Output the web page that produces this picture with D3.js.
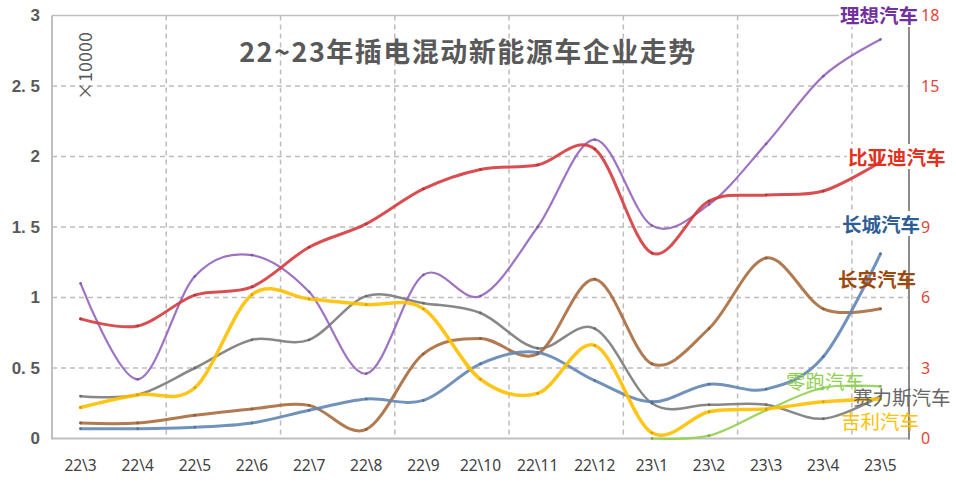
<!DOCTYPE html>
<html><head><meta charset="utf-8">
<script src="https://cdn.jsdelivr.net/npm/d3@7"></script>
<style>
html,body{margin:0;padding:0;background:#fff;}
svg{display:block;}
</style></head>
<body>
<svg id="chart" width="956" height="484"></svg>
<script>
// ---------- data ----------
const months = ["22\\3","22\\4","22\\5","22\\6","22\\7","22\\8","22\\9","22\\10","22\\11","22\\12","23\\1","23\\2","23\\3","23\\4","23\\5"];
const leftTicks = [0, 0.5, 1, 1.5, 2, 2.5, 3];
const leftTickLabels = ["0", "0. 5", "1", "1. 5", "2", "2. 5", "3"];
const rightTicks = [0, 3, 6, 9, 12, 15, 18];
const unitLabel = "×10000";
const title = "22~23年插电混动新能源车企业走势";

// values in 10,000 units
const seres   = [0.30,0.31,0.50,0.70,0.70,1.01,0.96,0.89,0.64,0.78,0.25,0.24,0.24,0.14,0.30];
const changan = [0.11,0.11,0.165,0.21,0.235,0.065,0.60,0.71,0.60,1.13,0.53,0.78,1.28,0.92,0.92];
const gwm     = [0.07,0.07,0.08,0.11,0.20,0.28,0.27,0.53,0.61,0.41,0.26,0.385,0.35,0.58,1.31];
const liauto  = [1.10,0.42,1.15,1.30,1.04,0.46,1.16,1.01,1.50,2.12,1.51,1.66,2.09,2.57,2.83];
const byd     = [5.09,4.79,6.10,6.45,8.14,9.13,10.62,11.45,11.64,12.32,7.89,10.10,10.36,10.53,11.77]; // right axis
const leap    = [null,null,null,null,null,null,null,null,null,null,0,0.02,0.20,0.36,0.37];
const geely   = [0.22,0.31,0.36,1.02,0.99,0.95,0.92,0.42,0.32,0.66,0.04,0.19,0.21,0.26,0.28];

const seriesNames = ["赛力斯汽车","长安汽车","长城汽车","理想汽车","比亚迪汽车","零跑汽车","吉利汽车"];
const seriesValues = [seres, changan, gwm, liauto, byd, leap, geely];
const seriesAxis = ["L","L","L","L","R","L","L"];

// ---------- styles / layout ----------
const lineColors  = ["#7b7b7b","#a96c3e","#6286b3","#9564be","#d43b3e","#92d050","#ffc000"];
const lineWidths  = [2.5, 3, 3, 2.2, 3, 2.2, 3.5];
const labelColors = ["#666666","#9a4a10","#2f5d95","#7030a0","#e0321e","#8fd052","#ffc000"];
const labelBold   = [false, true, true, true, true, false, false];
const labelBg     = [false, false, true, true, true, false, false];
const labelPos    = [[853,398],[838,280],[842,225],[840,16],[848,158],[786,382],[841,422]];

const m = {left:52, right:909, top:15.5, bottom:438.5};
const svg = d3.select("#chart");
const CJK = "'Noto Sans CJK SC','Noto Sans',sans-serif";

const x = d3.scaleBand().domain(months).range([m.left, m.right]);
const xc = d => x(d) + x.bandwidth()/2;
const yL = d3.scaleLinear().domain([0,3]).range([m.bottom, m.top]);
const yR = d3.scaleLinear().domain([0,18]).range([m.bottom, m.top]);

const grid = svg.append("g");
grid.selectAll("line.h").data(leftTicks.filter(t => t>0 && t<3)).join("line")
  .attr("x1", m.left).attr("x2", m.right)
  .attr("y1", d=>yL(d)).attr("y2", d=>yL(d))
  .attr("stroke","#bdbdbd").attr("stroke-width",1.5).attr("stroke-dasharray","5,4");
const vIdx = d3.range(2, months.length, 2);
grid.selectAll("line.v").data(vIdx).join("line")
  .attr("x1", d=>x(months[d])).attr("x2", d=>x(months[d]))
  .attr("y1", m.top).attr("y2", m.bottom)
  .attr("stroke","#bdbdbd").attr("stroke-width",1.5).attr("stroke-dasharray","5,4");
grid.append("line").attr("x1",m.left).attr("x2",m.right).attr("y1",yL(3)).attr("y2",yL(3))
  .attr("stroke","#bfbfbf").attr("stroke-width",1.5);
grid.append("line").attr("x1",m.left).attr("x2",m.left).attr("y1",m.top).attr("y2",m.bottom+1)
  .attr("stroke","#bfbfbf").attr("stroke-width",2);
grid.append("line").attr("x1",m.left).attr("x2",m.right).attr("y1",m.bottom).attr("y2",m.bottom)
  .attr("stroke","#bfbfbf").attr("stroke-width",2);
grid.append("line").attr("x1",m.right).attr("x2",m.right).attr("y1",m.top).attr("y2",m.bottom+1)
  .attr("stroke","#8c8c8c").attr("stroke-width",2);

// left tick labels
svg.append("g").selectAll("text").data(leftTicks).join("text")
  .attr("x", 40).attr("y", d=>yL(d)).attr("dy","0.35em")
  .attr("text-anchor","end").attr("font-family","'Liberation Sans',Arial,sans-serif")
  .attr("font-weight","bold").attr("font-size",17).attr("fill","#595959")
  .text((d,i)=>leftTickLabels[i]);

// x labels
svg.append("g").selectAll("text").data(months).join("text")
  .attr("x", d=>xc(d)).attr("y", 466).attr("dy","0.35em")
  .attr("text-anchor","middle").attr("font-family","'Noto Sans',sans-serif")
  .attr("font-size",15.5).attr("fill","#404040")
  .text(d=>d);

// unit label
svg.append("text").attr("transform","translate(92,100) rotate(-90)")
  .attr("font-family",CJK).attr("font-size",18).attr("fill","#595959")
  .text(unitLabel);

// title
svg.append("text").attr("x",468).attr("y",52).attr("dy","0.36em")
  .attr("text-anchor","middle").attr("font-family",CJK).attr("font-weight","bold")
  .attr("font-size",27).attr("fill","#595959").attr("letter-spacing",1.5)
  .text(title);

// series labels (texts created first to measure, backgrounds behind lines)
const labG = svg.append("g");
const txtNodes = [];
seriesNames.forEach((n,i)=>{
  const t = svg.append("text").attr("x",labelPos[i][0]).attr("y",labelPos[i][1]).attr("dy","0.36em")
    .attr("font-family",CJK).attr("font-size",19.5)
    .attr("font-weight", labelBold[i] ? "bold" : "normal")
    .attr("fill",labelColors[i]).text(n);
  txtNodes.push(t);
});
const boxes = txtNodes.map(t => t.node().getBBox());

// right tick labels, skipping those hidden behind a series label (as in the reference)
const rg = svg.append("g");
rightTicks.forEach(d=>{
  const t = rg.append("text").attr("x", 921).attr("y", yR(d)).attr("dy","0.35em")
    .attr("font-family","'Noto Sans',sans-serif").attr("font-size",16).attr("fill","#e0463a")
    .text(d);
  const b = t.node().getBBox();
  const hit = boxes.some((q,i)=> labelBg[i] && b.x < q.x+q.width-2 && b.x+b.width > q.x+2 && b.y < q.y+q.height-6 && b.y+b.height > q.y+6);
  if (hit) t.remove();
});

// lines
const linesG = svg.append("g");
seriesValues.forEach((vals,i)=>{
  const ys = seriesAxis[i]==="R" ? yR : yL;
  const pts = months.map((mo,j)=>({x:xc(mo), y: vals[j]===null?null:ys(vals[j])})).filter(p=>p.y!==null);
  const line = d3.line().x(p=>p.x).y(p=>p.y).curve(d3.curveCardinal.tension(0));
  linesG.append("path").attr("d", line(pts)).attr("fill","none")
    .attr("stroke", lineColors[i]).attr("stroke-width", lineWidths[i])
    .attr("stroke-opacity",0.9).attr("stroke-linecap","round");
  linesG.append("g").selectAll("circle").data(pts).join("circle")
    .attr("cx",p=>p.x).attr("cy",p=>p.y).attr("r",1.4)
    .attr("fill", d3.color(lineColors[i]).darker(0.8)).attr("opacity",0.7);
});
// label backgrounds over grid/axes, under lines; texts on top
txtNodes.forEach((t,i)=>{
  if (labelBg[i]) {
    const b = boxes[i];
    labG.append("rect").attr("x",b.x-1).attr("y",b.y+2).attr("width",b.width+2).attr("height",b.height-4)
      .attr("fill","#fff");
  }
  svg.node().appendChild(t.node());
});
svg.node().insertBefore(labG.node(), linesG.node());
</script>
</body></html>
